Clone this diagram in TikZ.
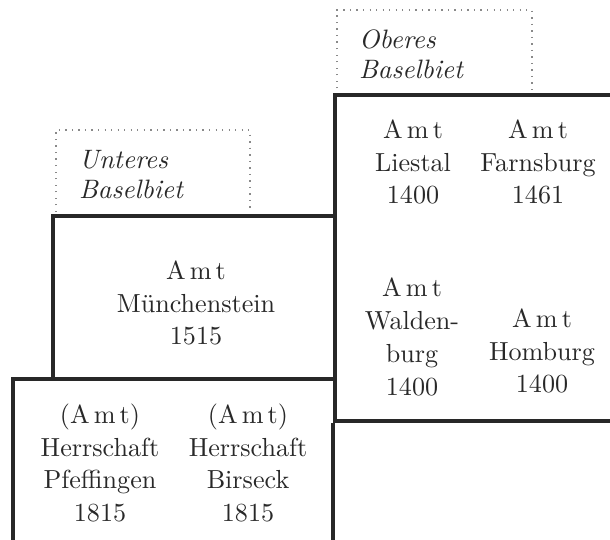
\documentclass[tikz,border=0pt]{standalone}
\usepackage{tikz}
\newcommand{\Amt}{A\kern1.6pt m\kern1.6pt t}
\begin{document}
\begin{tikzpicture}[x=0.383pt,y=-0.383pt]
    \definecolor{ink}{RGB}{40,40,40}
    \tikzstyle{frame}=[draw=ink,line width=1.3pt]
    \tikzstyle{region}=[draw=ink!55,dotted,line width=0.5pt]
    \tikzstyle{amt}=[align=center,text=ink,font=\fontsize{10}{12.6}\selectfont]
    \tikzstyle{label}=[anchor=west,align=left,text=ink,font=\fontsize{10.2}{11.5}\selectfont\itshape]
    \useasboundingbox (0,0) rectangle (610,540);
    % dotted regions
    \draw[region] (337,95) -- (337,10) -- (532,10) -- (532,95);
    \draw[region] (56,212) -- (56,130) -- (250,130) -- (250,212);
    \node[label] (oberes) at (350,54) {Oberes\\Baselbiet};
    \node[label] (unteres) at (70,175) {Unteres\\Baselbiet};
    % frames
    \draw[frame] (610,95) -- (335,95) -- (335,421) -- (610,421);
    \draw[frame] (335,216) -- (53,216) -- (53,377);
    \draw[frame] (13,540) -- (13,379) -- (333,379);
    \draw[frame] (333,423) -- (333,540);
    % Aemter
    \node[amt] (liestal) at (413,162) {\Amt\\Liestal\\1400};
    \node[amt] (farnsburg) at (538,162) {\Amt\\Farnsburg\\1461};
    \node[amt] (waldenburg) at (412,337) {\Amt\\Walden-\\burg\\1400};
    \node[amt] (homburg) at (542,351) {\Amt\\Homburg\\1400};
    \node[amt] (muenchenstein) at (196,303) {\Amt\\M\"unchenstein\\1515};
    \node[amt] (pfeffingen) at (100,463) {(\Amt)\\Herrschaft\\Pfeffingen\\1815};
    \node[amt] (birseck) at (248,463) {(\Amt)\\Herrschaft\\Birseck\\1815};
\end{tikzpicture}
\end{document}
